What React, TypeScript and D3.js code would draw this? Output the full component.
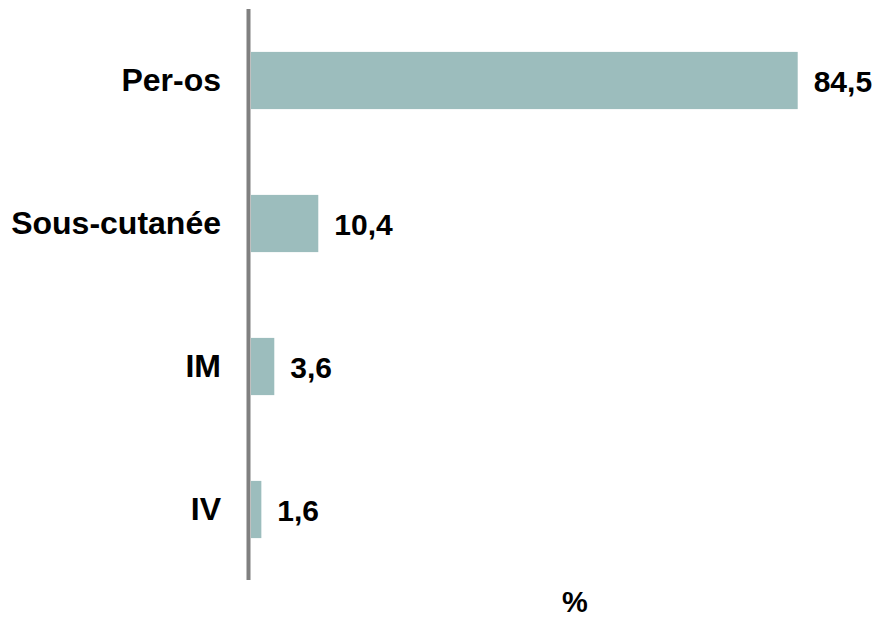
import React from "react";
import * as d3 from "d3";

const categories = ["Per-os", "Sous-cutanée", "IM", "IV"];
const values = [84.5, 10.4, 3.6, 1.6];
const valueLabels = ["84,5", "10,4", "3,6", "1,6"];
const axisTitle = "%";

const W = 879;
const H = 617;

export default function App() {
  const x = d3.scaleLinear().domain([0, 84.5]).range([251, 797.7]);
  const y = d3
    .scaleBand<string>()
    .domain(categories)
    .range([9, 581])
    .paddingInner(0.6)
    .paddingOuter(0.3);
  const font = "'Liberation Sans', Arial, sans-serif";
  return (
    <svg
      width={W}
      height={H}
      style={{ position: "absolute", left: 0, top: 0 }}
      fontFamily={font}
    >
      <rect width={W} height={H} fill="#ffffff" />
      {categories.map((c, i) => (
        <g key={c}>
          <rect
            x={x(0)}
            y={y(c)!}
            width={x(values[i]) - x(0)}
            height={y.bandwidth()}
            fill="#9cbdbd"
          />
          <text
            x={x(values[i]) + 16}
            y={y(c)! + y.bandwidth() / 2}
            dy="0.37em"
            fontSize={30}
            fontWeight="bold"
            fill="#000"
          >
            {valueLabels[i]}
          </text>
          <text
            x={221}
            y={y(c)! + y.bandwidth() / 2}
            dy="0.33em"
            textAnchor="end"
            fontSize={32}
            fontWeight="bold"
            fill="#000"
          >
            {c}
          </text>
        </g>
      ))}
      <line x1={248.5} x2={248.5} y1={9} y2={580} stroke="#808080" strokeWidth={4} />
      <text
        x={575}
        y={612}
        textAnchor="middle"
        fontSize={29}
        fontWeight="bold"
        fill="#000"
      >
        {axisTitle}
      </text>
    </svg>
  );
}
